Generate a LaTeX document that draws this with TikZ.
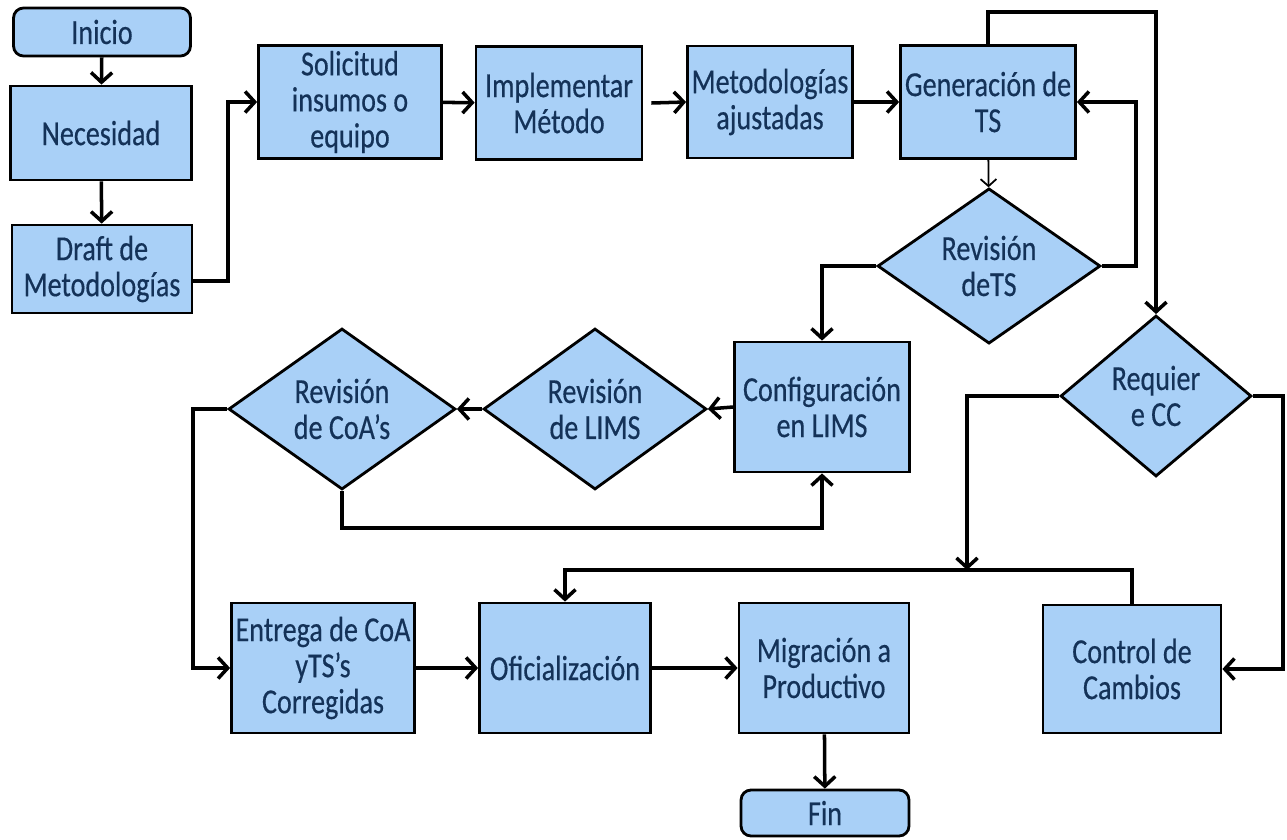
\documentclass[tikz,border=0pt]{standalone}
\usepackage{fontspec}
\setmainfont{Carlito}[FakeStretch=0.8,FakeBold=0.4]
\usetikzlibrary{shapes.geometric,arrows.meta}
\definecolor{boxfill}{RGB}{169,208,247}
\definecolor{boxtext}{RGB}{20,50,88}
\tikzset{
  base/.style={draw=black, line width=1.6pt, fill=boxfill, text=boxtext,
    align=center, inner sep=0pt, font=\fontsize{20}{20.5}\selectfont},
  proc/.style={base, rectangle, minimum width=#1},
  proc/.default=3.5cm,
  term/.style={base, rectangle, rounded corners=0.2cm, minimum width=3.5cm, minimum height=0.96cm},
  decision/.style={base, diamond, minimum width=4.46cm, minimum height=3.22cm},
  flow/.style={line width=2pt, -{Straight Barb[length=5.5pt,width=12pt,line width=2pt]}},
  thinflow/.style={line width=1pt, -{Straight Barb[length=4pt,width=9pt,line width=1pt]}},
  plain/.style={line width=2pt},
}
\begin{document}
\begin{tikzpicture}[x=0.02cm, y=-0.02cm]
\useasboundingbox (0,0) rectangle (1287,839);

% left column
\node[term, minimum width=3.54cm] (ini) at (102,32) {Inicio};
\node[proc=3.62cm, minimum height=1.88cm] (nec) at (101,133) {Necesidad};
\node[proc=3.6cm, minimum height=1.76cm] (dra) at (102,269) {Draft de\\Metodologías};

% top row
\node[proc=3.66cm, minimum height=2.26cm] (sol) at (350,102) {Solicitud\\insumos o\\equipo};
\node[proc=3.32cm, minimum height=2.26cm] (imp) at (559,103) {Implementar\\Método};
\node[proc=3.3cm, minimum height=2.24cm] (met) at (770,102) {Metodologías\\ajustadas};
\node[proc=3.5cm, minimum height=2.26cm] (gen) at (988,102) {Generación de\\TS};

% decisions
\node[decision, minimum height=2.8cm] (rts) at (989,266) {Revisión\\deTS};
\node[decision, minimum width=3.82cm] (req) at (1156,396) {Requier\\e CC};
\node[proc=3.5cm, minimum height=2.6cm] (conf) at (822,407) {Configuración\\en LIMS};
\node[decision] (lims) at (595,409) {Revisión\\de LIMS};
\node[decision, minimum width=4.54cm] (coa) at (342,409) {Revisión\\de CoA’s};

% bottom row
\node[proc=3.66cm, minimum height=2.6cm] (ent) at (323,668) {Entrega de CoA\\yTS’s\\Corregidas};
\node[proc=3.42cm, minimum height=2.6cm] (ofi) at (565,668) {Oficialización};
\node[proc=3.4cm, minimum height=2.6cm] (mig) at (824,668) {Migración a\\Productivo};
\node[proc=3.56cm, minimum height=2.56cm] (ctl) at (1132,669) {Control de\\Cambios};
\node[term, minimum width=3.36cm, minimum height=0.92cm] (fin) at (825,813) {Fin};

% junctions
\coordinate (j) at (967,570);
\coordinate (rr) at (1283,396);

% connectors
\draw[flow] (ini) -- (nec);
\draw[flow] (nec) -- (dra);
\draw[flow] ([yshift=-0.24cm]dra.east) -| (228,200) |- (sol.west);
\draw[flow] (sol) -- (imp);
\draw[flow] ([xshift=0.16cm]imp.east) -- (met.west);
\draw[flow] (met) -- (gen);
\draw[thinflow] (gen) -- (rts);
\draw[flow] (rts.east) -| (1136,200) |- (gen.east);
\draw[flow] (gen.north) -- (gen.north |- 0,12) -| (req.north);
\draw[flow] (rts.west) -| (conf.north);
\draw[flow] (conf.west) -- (lims.east);
\draw[flow] (lims.west) -- (coa.east);
\draw[flow] (coa.south) -- (coa.south |- 0,528) -| (conf.south);
\draw[flow] (coa.west) -| (193,560) |- (ent.west);
\draw[flow] (req.west) -| (j);
\draw[plain] (ctl.north) |- (j);
\draw[flow] (j) -| (ofi.north);
\draw[flow] (req.east) -- (rr) |- (ctl.east);
\draw[flow] (ent) -- (ofi);
\draw[flow] (ofi) -- (mig);
\draw[flow] (mig) -- (fin);
\end{tikzpicture}
\end{document}
